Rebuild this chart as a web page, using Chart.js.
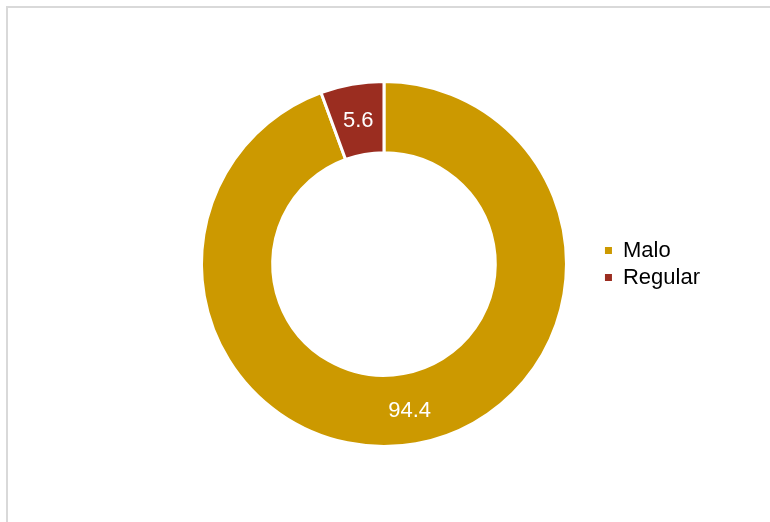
<!DOCTYPE html>
<html>
<head>
<meta charset="utf-8">
<script src="https://cdn.jsdelivr.net/npm/chart.js@4"></script>
<style>
  html, body { margin: 0; padding: 0; background: #fff; }
  #wrap { position: relative; width: 770px; height: 522px; }
  #frame {
    position: absolute; left: 6px; top: 6px; right: 0; bottom: 0;
    border-left: 2px solid #d9d9d9; border-top: 2px solid #d9d9d9;
  }
  #chart { position: absolute; left: 0; top: 0; }
</style>
</head>
<body>
<div id="wrap">
  <div id="frame"></div>
  <canvas id="chart" width="770" height="522"></canvas>
</div>
<script>
const categories = ['Malo', 'Regular'];
const values = [94.4, 5.6];
const colors = ['#CC9900', '#9B2D20'];

// draws the value inside each slice
const sliceLabels = {
  id: 'sliceLabels',
  afterDatasetsDraw(chart) {
    const ctx = chart.ctx;
    const meta = chart.getDatasetMeta(0);
    ctx.save();
    ctx.fillStyle = '#ffffff';
    ctx.font = '22px "Liberation Sans", Arial, sans-serif';
    ctx.textAlign = 'center';
    ctx.textBaseline = 'middle';
    meta.data.forEach((arc, i) => {
      const p = arc.tooltipPosition();
      ctx.fillText(values[i].toFixed(1), p.x, p.y + 2);
    });
    ctx.restore();
  }
};

new Chart(document.getElementById('chart').getContext('2d'), {
  type: 'doughnut',
  data: {
    labels: categories,
    datasets: [{
      data: values,
      backgroundColor: colors,
      borderColor: '#ffffff',
      borderWidth: 3
    }]
  },
  options: {
    responsive: false,
    animation: false,
    cutout: '61%',
    layout: { padding: { left: 168, right: 60, top: 80, bottom: 74 } },
    plugins: {
      tooltip: { enabled: false },
      legend: {
        position: 'right',
        labels: {
          boxWidth: 7,
          boxHeight: 7,
          padding: 5,
          color: '#000',
          font: { size: 22, family: '"Liberation Sans", Arial, sans-serif' },
          generateLabels(chart) {
            // plain filled squares, no white slice border
            const items = Chart.overrides.doughnut.plugins.legend.labels.generateLabels(chart);
            items.forEach(it => { it.lineWidth = 0; it.strokeStyle = it.fillStyle; });
            return items;
          }
        }
      }
    }
  },
  plugins: [sliceLabels]
});
</script>
</body>
</html>
